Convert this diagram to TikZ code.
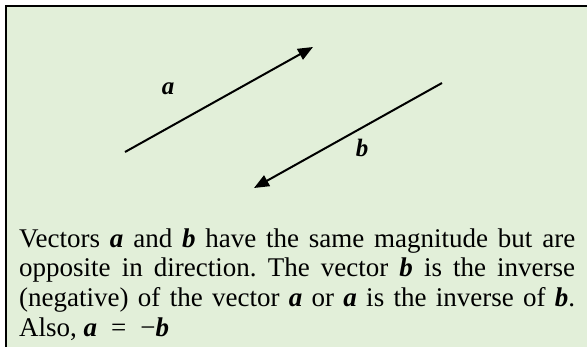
\documentclass[tikz,border=0pt]{standalone}
\usepackage{fontspec}
\setmainfont{Liberation Serif}
\usetikzlibrary{arrows.meta}
\definecolor{boxgreen}{RGB}{226,239,217}
\newcommand{\vb}[1]{{\bfseries\itshape #1}}
\tikzset{
  vec/.style={line width=2pt,-{Triangle[length=15pt,width=12pt]}},
  lbl/.style={inner sep=0pt,anchor=base,font=\fontsize{25pt}{28pt}\selectfont\bfseries\itshape},
  body/.style={inner sep=0pt,anchor=base west}
}
\begin{document}
\begin{tikzpicture}[x=1pt,y=-1pt]
\useasboundingbox (0,0) rectangle (587,346);
\fill[white] (0,0) rectangle (587,346);
\fill[boxgreen] (6,6) rectangle (590,350);
\draw[line width=2.2pt] (6,350) -- (6,6) -- (590,6);
\coordinate (a1) at (125,152);
\coordinate (a2) at (313,47);
\coordinate (b1) at (442,83);
\coordinate (b2) at (254,188);
\draw[vec] (a1) -- (a2);
\draw[vec] (b1) -- (b2);
\node[lbl] (la) at (168,94) {a};
\node[lbl] (lb) at (362,156) {b};
\node[body] (txt) at (19,247) {\parbox[t]{556pt}{\fontsize{27pt}{29.7pt}\selectfont\frenchspacing\setlength{\parindent}{0pt}%
Vectors \vb{a} and \vb{b} have the same magnitude but are\linebreak
opposite in direction. The vector \vb{b} is the inverse\linebreak
(negative) of the vector \vb{a} or \vb{a} is the inverse of \vb{b}.\linebreak
Also, \vb{a}\hspace{14pt}=\hspace{14pt}−\vb{b}}};
\end{tikzpicture}
\end{document}
